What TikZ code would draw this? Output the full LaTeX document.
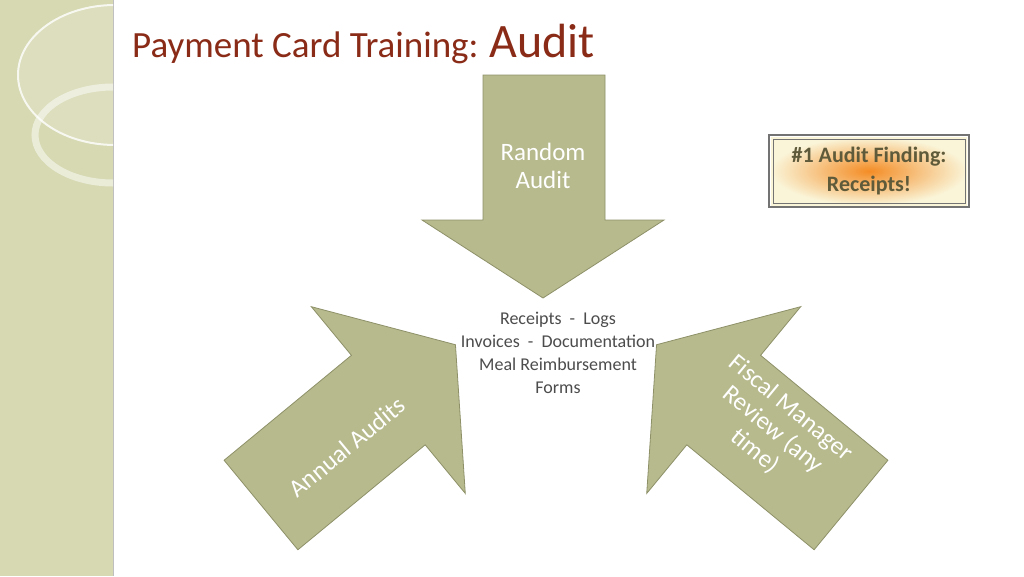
\documentclass[tikz,border=0pt]{standalone}
\usepackage{fontspec}
\setmainfont{Carlito}
\begin{document}
\begin{tikzpicture}[x=1pt,y=-1pt,
  arr/.style={fill=olivefill,draw=oliveline,line width=0.8pt},
  wtxt/.style={text=white,font=\fontsize{25}{28}\selectfont,align=center},
  ctxt/.style={text=black!70,font=\fontsize{18}{23}\selectfont,align=center}]
\definecolor{olivefill}{HTML}{B7BA8D}
\definecolor{oliveline}{HTML}{8E9168}
\definecolor{strip}{HTML}{D6D9B2}
\definecolor{titlered}{HTML}{8A2B17}
\definecolor{boxtext}{HTML}{5E5A3A}
\useasboundingbox (0,0) rectangle (1024,576);
\fill[white] (0,0) rectangle (1024,576);
\fill[strip] (0,0) rectangle (113,576);
\draw[black!25] (113,0) -- (113,576);
\begin{scope}
\clip (0,0) rectangle (113,576);
\fill[white,opacity=0.15] (115,75) ellipse [x radius=97,y radius=70];
\draw[white,line width=2pt,opacity=0.8] (115,75) ellipse [x radius=97,y radius=70];
\draw[white,line width=7pt,opacity=0.5] (113,135) ellipse [x radius=78,y radius=48];
\end{scope}
\node[anchor=base west,inner sep=0] (title) at (132,57) {\textcolor{titlered}{\fontsize{37}{38}\selectfont Payment Card Training: \fontsize{48}{50}\selectfont Audit}};
% top arrow
\path[arr] (483,75) -- (605,75) -- (605,220) -- (664,220) -- (543,298) -- (422,220) -- (483,220) -- cycle;
% side arrows
\begin{scope}[shift={(261,505)},rotate=129.5]
\path[arr] (-58,0) -- (58,0) -- (58,165) -- (121,165) -- (0,252) -- (-121,165) -- (-58,165) -- cycle;
\end{scope}
\begin{scope}[shift={(851,505)},rotate=-129.5]
\path[arr] (-58,0) -- (58,0) -- (58,165) -- (121,165) -- (0,252) -- (-121,165) -- (-58,165) -- cycle;
\end{scope}
\node[wtxt] (random) at (543,166) {Random\\Audit};
\node[wtxt,rotate=39.5] (annual) at (347,447) {Annual Audits};
\node[wtxt,rotate=-39.5] (fiscal) at (773,430) {Fiscal Manager\\Review (any\\time)};
\node[ctxt] (center) at (558,353) {Receipts \ - \ Logs\\Invoices \ - \ Documentation\\Meal Reimbursement\\Forms};
\shade[inner color=orange!80!brown!90!white,outer color=yellow!10!white!92!brown] (771,137) rectangle (967,205);
\draw[black!55,line width=1.2pt] (769,135) rectangle (969,207);
\draw[black!55,line width=0.8pt] (773,139) rectangle (965,203);
\node[font=\bfseries\fontsize{22}{29}\selectfont,text=boxtext,align=center] (finding) at (869,171) {\#1 Audit Finding:\\Receipts!};
\end{tikzpicture}
\end{document}
